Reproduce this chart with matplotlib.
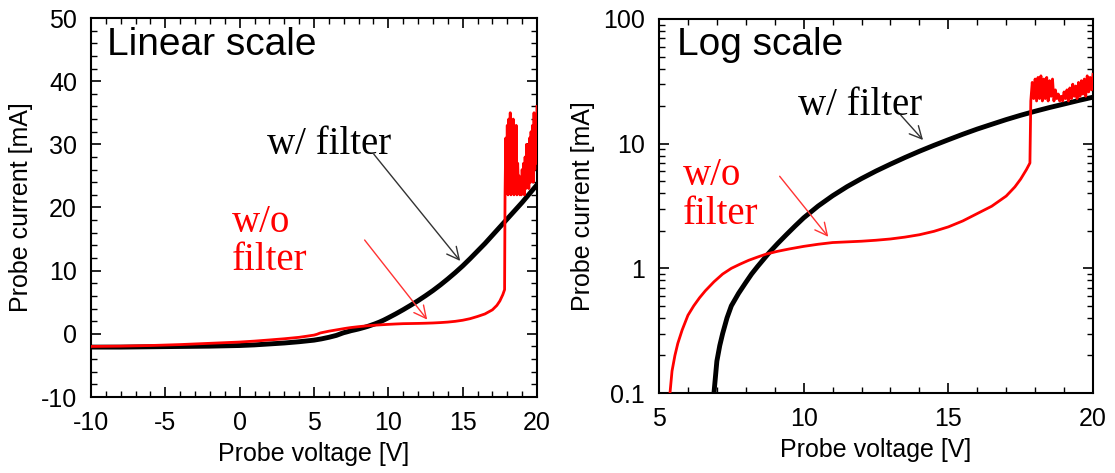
import numpy as np
import matplotlib
matplotlib.use('Agg')
import matplotlib.pyplot as plt
from matplotlib.ticker import MultipleLocator, LogLocator, NullFormatter, FixedLocator, FixedFormatter

plt.rcParams['font.family'] = ['Liberation Sans', 'DejaVu Sans']
plt.rcParams['axes.unicode_minus'] = False

# probe I-V curve with the filter
v_filter = [-10, -8, -6, -4, -2, 0, 1, 2, 3, 4, 5, 5.5, 6, 6.5, 6.9, 7.0, 7.1, 7.2, 7.35,
            7.5, 7.75, 8.0, 8.2, 8.4, 8.6, 8.8, 9.1, 9.4, 9.7, 10, 10.5, 11, 11.5, 12, 12.5,
            13, 13.5, 14, 14.5, 15, 15.5, 16, 16.5, 17, 17.5, 18, 18.5, 19, 19.5, 20]
i_filter = [-2.1, -2.1, -2.05, -2.0, -1.95, -1.85, -1.75, -1.6, -1.45, -1.25, -1.0, -0.8,
            -0.55, -0.25, 0.1, 0.18, 0.24, 0.3, 0.4, 0.5, 0.63, 0.77, 0.9, 1.03, 1.17, 1.33,
            1.58, 1.86, 2.18, 2.54, 3.16, 3.82, 4.52, 5.25, 6.03, 6.85, 7.74, 8.69, 9.69,
            10.75, 11.9, 13.1, 14.3, 15.6, 16.9, 18.2, 19.5, 20.8, 22.2, 23.6]

# probe I-V curve without the filter (smooth part)
v_nofilter = [-10, -8, -6, -4, -2, 0, 1, 2, 3, 4, 4.5, 5, 5.2, 5.38, 5.45, 5.55, 5.65, 5.8,
              6.0, 6.2, 6.4, 6.6, 6.9, 7.2, 7.5, 7.8, 8.1, 8.4, 8.7, 9.1, 9.5, 10, 10.5, 11,
              11.5, 12, 12.5, 13, 13.5, 14, 14.5, 15, 15.5, 16, 16.5, 17, 17.3, 17.5, 17.7,
              17.82]
i_nofilter = [-2.0, -1.95, -1.85, -1.7, -1.5, -1.3, -1.15, -0.97, -0.78, -0.55, -0.38, -0.2,
              -0.07, 0.1, 0.15, 0.2, 0.25, 0.32, 0.42, 0.5, 0.58, 0.66, 0.78, 0.9, 1.0, 1.08,
              1.16, 1.23, 1.3, 1.37, 1.43, 1.5, 1.56, 1.61, 1.63, 1.65, 1.68, 1.72, 1.78,
              1.86, 1.98, 2.15, 2.4, 2.75, 3.15, 3.8, 4.5, 5.2, 6.2, 7.0]

# noisy part after the jump
v_spike = [17.85, 17.9, 17.95, 18.0, 18.05, 18.1, 18.15, 18.2, 18.25, 18.3, 18.35, 18.4,
           18.45, 18.5, 18.55, 18.6, 18.65, 18.7, 18.75, 18.8, 18.85, 18.9, 18.95, 19.0,
           19.05, 19.1, 19.15, 19.2, 19.25, 19.3, 19.35, 19.4, 19.45, 19.5, 19.55, 19.6,
           19.65, 19.7, 19.75, 19.8, 19.85, 19.9, 19.95, 20.0]
i_spike = [22, 31, 23, 33, 22, 34, 23, 35, 22, 33, 23, 34, 22, 32, 24, 33, 22, 27, 23, 25,
           22, 24, 22, 26, 23, 27, 22, 28, 23, 30, 24, 29, 23, 31, 24, 32, 25, 33, 24, 35,
           26, 34, 27, 36]

v_red = v_nofilter + v_spike
i_red = i_nofilter + i_spike

fig = plt.figure(figsize=(11.15, 4.73), dpi=100)
ax1 = fig.add_axes([91/1115, (473-397)/473, 446/1115, 379/473])
ax2 = fig.add_axes([659/1115, (473-393)/473, 434/1115, 374/473])

serif = ['Liberation Serif', 'DejaVu Serif']

for ax in (ax1, ax2):
    ax.plot(v_filter, i_filter, color='black', lw=3.5, zorder=3)
    ax.plot(v_red, i_red, color='#ff0000', lw=2, zorder=4)
    ax.tick_params(which='both', direction='in', top=True, right=True, labelsize=18)
    ax.tick_params(which='major', length=7, width=1.2, pad=10)
    ax.tick_params(which='minor', length=4, width=1.0)
    for s in ax.spines.values():
        s.set_linewidth(1.5)
    ax.set_xlabel('Probe voltage [V]', fontsize=18, labelpad=5)
    ax.set_ylabel('Probe current [mA]', fontsize=18, labelpad=6)

# linear scale panel
ax1.set_xlim(-10, 20)
ax1.set_ylim(-10, 50)
ax1.xaxis.set_major_locator(MultipleLocator(5))
ax1.xaxis.set_minor_locator(MultipleLocator(1))
ax1.yaxis.set_major_locator(MultipleLocator(10))
ax1.yaxis.set_minor_locator(MultipleLocator(2))
ax1.text(0.036, 0.93, 'Linear scale', transform=ax1.transAxes, fontsize=28,
         ha='left', va='center')
ax1.text(6.04, 29.9, 'w/ filter', fontsize=28, family=serif, ha='center', va='center')
ax1.annotate('', xy=(14.95, 11.2), xytext=(8.9, 28.8),
             arrowprops=dict(arrowstyle='->', color='#333333', lw=1, mutation_scale=22))
ax1.text(-0.52, 14.6, 'w/o\nfilter', fontsize=28, family=serif, color='#ff0000',
         ha='left', va='center', linespacing=1.05)
ax1.annotate('', xy=(12.73, 1.9), xytext=(8.29, 15.2),
             arrowprops=dict(arrowstyle='->', color='#ff3333', lw=1, mutation_scale=22))

# log scale panel
ax2.set_yscale('log')
ax2.set_xlim(5, 20)
ax2.set_ylim(0.1, 100)
ax2.xaxis.set_major_locator(MultipleLocator(5))
ax2.xaxis.set_minor_locator(MultipleLocator(1))
ax2.yaxis.set_major_locator(FixedLocator([0.1, 1, 10, 100]))
ax2.yaxis.set_major_formatter(FixedFormatter(['0.1', '1', '10', '100']))
ax2.yaxis.set_minor_locator(LogLocator(base=10, subs=np.arange(2, 10)))
ax2.yaxis.set_minor_formatter(NullFormatter())
ax2.text(0.041, 0.93, 'Log scale', transform=ax2.transAxes, fontsize=28,
         ha='left', va='center')
ax2.text(11.95, 20.4, 'w/ filter', fontsize=28, family=serif, ha='center', va='center')
ax2.annotate('', xy=(14.19, 10.3), xytext=(13.29, 17.6),
             arrowprops=dict(arrowstyle='->', color='#333333', lw=1, mutation_scale=22))
ax2.text(5.83, 3.87, 'w/o\nfilter', fontsize=28, family=serif, color='#ff0000',
         ha='left', va='center', linespacing=1.05)
ax2.annotate('', xy=(10.91, 1.72), xytext=(9.11, 5.7),
             arrowprops=dict(arrowstyle='->', color='#ff3333', lw=1, mutation_scale=22))

fig.savefig('out.png', dpi=100)
